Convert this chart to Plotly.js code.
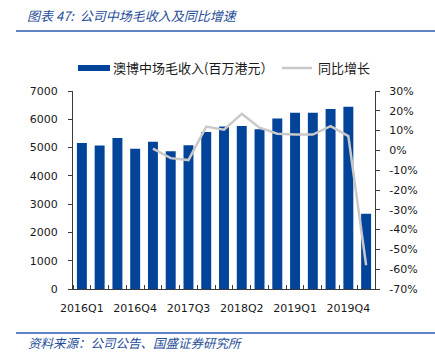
<!DOCTYPE html>
<html>
<head>
<meta charset="utf-8">
<script src="https://cdn.plot.ly/plotly-3.0.1.min.js"></script>
<style>
html,body{margin:0;padding:0;background:#fff;}
#chart{width:435px;height:352px;}
</style>
</head>
<body>
<div id="chart"></div>
<script>
// ---- data ----
const quarters = ['2016Q1','2016Q2','2016Q3','2016Q4','2017Q1','2017Q2','2017Q3','2017Q4',
  '2018Q1','2018Q2','2018Q3','2018Q4','2019Q1','2019Q2','2019Q3','2019Q4','2020Q1'];
const revenue = [5165, 5075, 5340, 4955, 5210, 4870, 5080, 5550,
  5745, 5760, 5645, 6025, 6235, 6235, 6365, 6445, 2660];
const growth = [null, null, null, null, 0.009, -0.039, -0.049, 0.120,
  0.105, 0.185, 0.115, 0.084, 0.080, 0.080, 0.122, 0.072, -0.580];
const labelQuarters = ['2016Q1','2016Q4','2017Q3','2018Q2','2019Q1','2019Q4'];
const leftTicks = [0,1000,2000,3000,4000,5000,6000,7000];
const rightTicks = [-0.7,-0.6,-0.5,-0.4,-0.3,-0.2,-0.1,0,0.1,0.2,0.3];
const rightTickText = ['-70%','-60%','-50%','-40%','-30%','-20%','-10%','0%','10%','20%','30%'];
const seriesNames = ['澳博中场毛收入(百万港元）','同比增长'];
const titleText = '图表 47:  公司中场毛收入及同比增速';
const sourceText = '资料来源：公司公告、国盛证券研究所';

// ---- layout geometry ----
const W = 435, H = 352;
const L = 73, R = 375, T = 91, B = 289;
const px = x => (x - L) / (R - L);
const py = y => (B - y) / (B - T);

const xIdx = quarters.map((q, i) => i);
const tickIdx = labelQuarters.map(q => quarters.indexOf(q));

const BLUE = '#02449a';
const GREY = '#c9c9c9';
const AXIS = '#3a3a3a';
const FONT = 'DejaVu Sans, Verdana, sans-serif';
const CJK = 'Noto Sans CJK SC, sans-serif';

const traces = [
  {type:'bar', x:xIdx, y:revenue, name:seriesNames[0], marker:{color:BLUE},
   width:0.56, yaxis:'y', hoverinfo:'skip'},
  {type:'scatter', mode:'lines', x:xIdx, y:growth, name:seriesNames[1],
   line:{color:GREY, width:2.5}, yaxis:'y2', connectgaps:false, hoverinfo:'skip'}
];

const layout = {
  width:W, height:H,
  margin:{l:L, r:W-R, t:T, b:H-B, pad:0},
  paper_bgcolor:'#fff', plot_bgcolor:'#fff',
  showlegend:false,
  font:{family:FONT, size:11, color:'#1a1a1a'},
  xaxis:{
    type:'linear', range:[-0.5, quarters.length-0.5],
    tickvals:tickIdx, ticktext:labelQuarters,
    ticks:'', showgrid:false, zeroline:false,
    showline:true, linecolor:AXIS, linewidth:1,
    ticklabelstandoff:9,
    minor:{ticks:'inside', tick0:-0.5, dtick:1, ticklen:4, tickcolor:AXIS, showgrid:false},
    tickfont:{family:FONT, size:11, color:'#1a1a1a'}
  },
  yaxis:{
    range:[0,7000], tickvals:leftTicks, ticks:'outside', ticklen:4, tickcolor:AXIS,
    showgrid:false, zeroline:false, showline:true, linecolor:AXIS, linewidth:1,
    ticklabelstandoff:8,
    tickfont:{family:FONT, size:11, color:'#1a1a1a'}
  },
  yaxis2:{
    overlaying:'y', side:'right', range:[-0.7,0.3],
    tickvals:rightTicks, ticktext:rightTickText,
    ticks:'outside', ticklen:4, tickcolor:AXIS,
    showgrid:false, zeroline:false, showline:true, linecolor:AXIS, linewidth:1,
    ticklabelstandoff:7,
    tickfont:{family:FONT, size:11, color:'#1a1a1a'}
  },
  shapes:[
    {type:'line', xref:'paper', yref:'paper', x0:px(16), x1:px(435), y0:py(31), y1:py(31),
     line:{color:'#2a5cb4', width:1.5}},
    {type:'line', xref:'paper', yref:'paper', x0:px(16), x1:px(435), y0:py(333), y1:py(333),
     line:{color:'#2a5cb4', width:1.5}},
    // legend swatches
    {type:'rect', xref:'paper', yref:'paper', x0:px(78), x1:px(110), y0:py(71), y1:py(65),
     fillcolor:BLUE, line:{width:0}},
    {type:'line', xref:'paper', yref:'paper', x0:px(282), x1:px(312), y0:py(68), y1:py(68),
     line:{color:GREY, width:2.5}}
  ],
  annotations:[
    {xref:'paper', yref:'paper', x:px(25), y:py(16), xanchor:'left', yanchor:'middle',
     text:'<i>'+titleText+'</i>', showarrow:false,
     font:{family:CJK, size:13, color:'#1f4e9a'}},
    {xref:'paper', yref:'paper', x:px(26), y:py(342), xanchor:'left', yanchor:'middle',
     text:'<i>'+sourceText+'</i>', showarrow:false,
     font:{family:CJK, size:12.5, color:'#1f4e9a'}},
    {xref:'paper', yref:'paper', x:px(111), y:py(67), xanchor:'left', yanchor:'middle',
     text:seriesNames[0], showarrow:false,
     font:{family:CJK, size:13, color:'#1a1a1a'}},
    {xref:'paper', yref:'paper', x:px(316), y:py(67), xanchor:'left', yanchor:'middle',
     text:seriesNames[1], showarrow:false,
     font:{family:CJK, size:13, color:'#1a1a1a'}}
  ]
};

Plotly.newPlot('chart', traces, layout, {staticPlot:true, displayModeBar:false});
</script>
</body>
</html>
